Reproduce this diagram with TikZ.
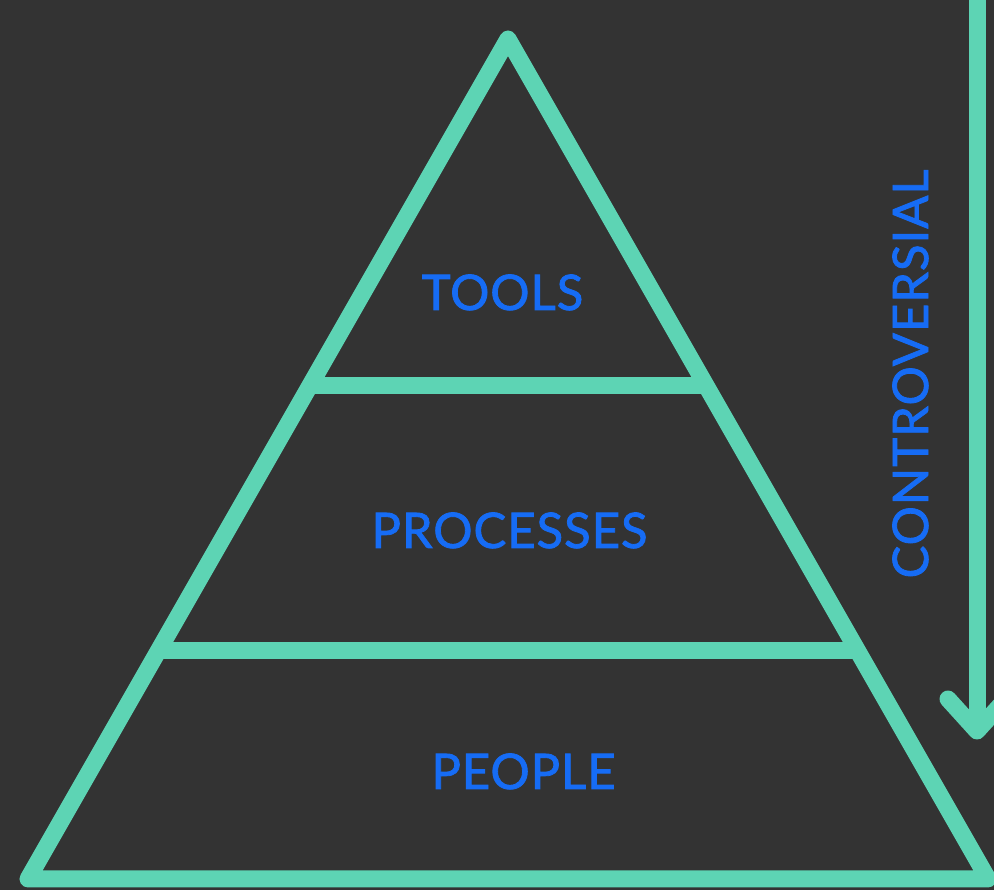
\documentclass[tikz,border=0pt]{standalone}
\usepackage{fontspec}
\setmainfont{Lato}
\newfontfamily\layerfont{Lato}[FakeBold=1.6,LetterSpace=2]
\definecolor{bgdark}{RGB}{51,51,51}
\definecolor{mint}{RGB}{93,212,180}
\definecolor{layerblue}{RGB}{22,108,245}
\tikzset{
pyr/.style={
  draw=mint,
  line width=17pt,
  line join=round,
  line cap=round
  },
bar/.style={
  draw=mint,
  line width=17pt,
  line cap=butt
  },
layer/.style={
  text=layerblue,
  font=\layerfont\fontsize{49}{49}\selectfont,
  anchor=base,
  inner sep=0pt
  }
}

\begin{document}
\begin{tikzpicture}[x=1pt,y=1pt]

\fill[bgdark] (0,0) rectangle (994,890);
\clip (0,0) rectangle (994,890);

\coordinate (apex) at (508,851);
\coordinate (bl) at (28,11);
\coordinate (br) at (988,11);

\coordinate (tl) at (309.5,504);
\coordinate (tr) at (706.5,504);
\coordinate (ml) at (158,239);
\coordinate (mr) at (858,239);

\draw[bar] (tl) -- (tr);
\draw[bar] (ml) -- (mr);
\draw[pyr] (apex) -- (bl) -- (br) -- cycle;

\node[layer] (tools) at (502.5,580) {TOOLS};

\node[layer] (processes) at (509.5,342) {PROCESSES};

\node[layer] (people) at (523.5,101) {PEOPLE};

\coordinate (arrtop) at (977,900);
\coordinate (arrtip) at (977,159);
\coordinate (arrl) at (948,191);
\coordinate (arrr) at (1006,191);

\draw[pyr, line cap=butt] (arrtop) -- (arrtip);
\draw[pyr] (arrl) -- (arrtip) -- (arrr);

\node[layer, rotate=90] (contro) at (928,516) {CONTROVERSIAL};

\end{tikzpicture}
\end{document}
